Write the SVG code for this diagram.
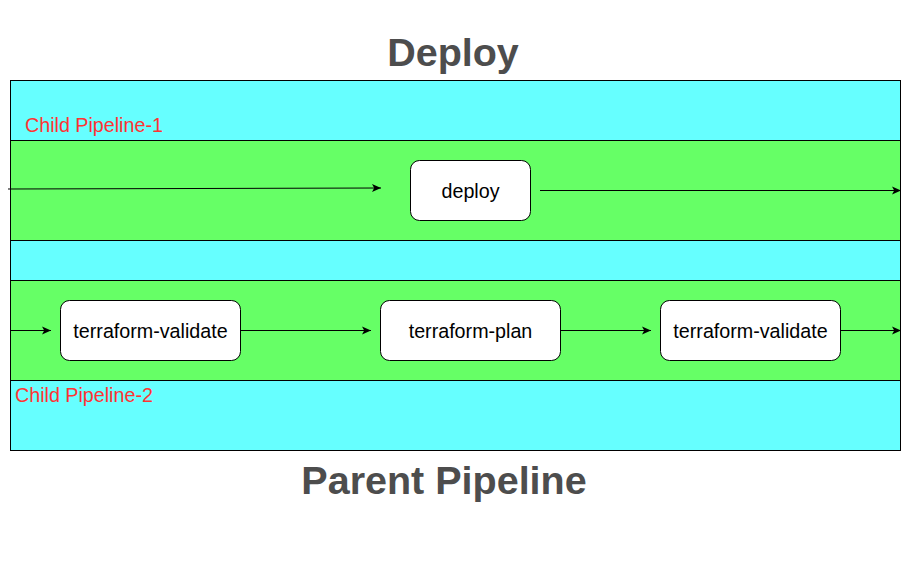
<svg xmlns="http://www.w3.org/2000/svg" width="909" height="561" viewBox="0 0 909 561">
<defs>
<marker id="arr" markerWidth="10" markerHeight="10" refX="9" refY="5" orient="auto" markerUnits="userSpaceOnUse">
<path d="M0,1 L9,5 L0,9 L2.2,5 Z" fill="#000"/>
</marker>
<style>
.lane{fill:#66FFFF;stroke:#000;stroke-width:1}
.band{fill:#66FF66;stroke:#000;stroke-width:1}
.node rect{fill:#fff;stroke:#000;stroke-width:1}
.node text{font-family:"Liberation Sans",Arial,sans-serif;font-size:19.7px;fill:#000;text-anchor:middle}
.lbl{font-family:"Liberation Sans",Arial,sans-serif;font-size:19.7px;fill:#FF3333}
.title{font-family:"Liberation Sans",Arial,sans-serif;font-size:39.5px;font-weight:bold;fill:#4D4D4D;text-anchor:middle}
.edge{stroke:#000;stroke-width:1;fill:none;marker-end:url(#arr)}
</style>
</defs>
<rect width="909" height="561" fill="#fff"/>
<g id="lanes">
<rect class="lane" x="10.5" y="80.5" width="890" height="370"/>
<rect class="band" x="10.5" y="140.5" width="890" height="100"/>
<rect class="band" x="10.5" y="280.5" width="890" height="100"/>
</g>
<text class="title" x="453" y="66">Deploy</text>
<text class="title" x="444" y="494">Parent Pipeline</text>
<text class="lbl" x="25" y="132">Child Pipeline-1</text>
<text class="lbl" x="15" y="402">Child Pipeline-2</text>
<g id="connectors">
<line class="edge" x1="8" y1="189" x2="381" y2="188"/>
<line class="edge" x1="540" y1="190.5" x2="901" y2="190.5"/>
<line class="edge" x1="10" y1="330.5" x2="51" y2="330.5"/>
<line class="edge" x1="240" y1="330.5" x2="371" y2="330.5"/>
<line class="edge" x1="560" y1="330.5" x2="651" y2="330.5"/>
<line class="edge" x1="840" y1="330.5" x2="901" y2="330.5"/>
</g>
<g id="deploy" class="node">
<rect x="410.5" y="160.5" width="120" height="60" rx="9"/>
<text x="470.5" y="197.5">deploy</text>
</g>
<g id="tf-validate-1" class="node">
<rect x="60.5" y="300.5" width="180" height="60" rx="9"/>
<text x="150.5" y="337.5">terraform-validate</text>
</g>
<g id="tf-plan" class="node">
<rect x="380.5" y="300.5" width="180" height="60" rx="9"/>
<text x="470.5" y="337.5">terraform-plan</text>
</g>
<g id="tf-validate-2" class="node">
<rect x="660.5" y="300.5" width="180" height="60" rx="9"/>
<text x="750.5" y="337.5">terraform-validate</text>
</g>
</svg>
